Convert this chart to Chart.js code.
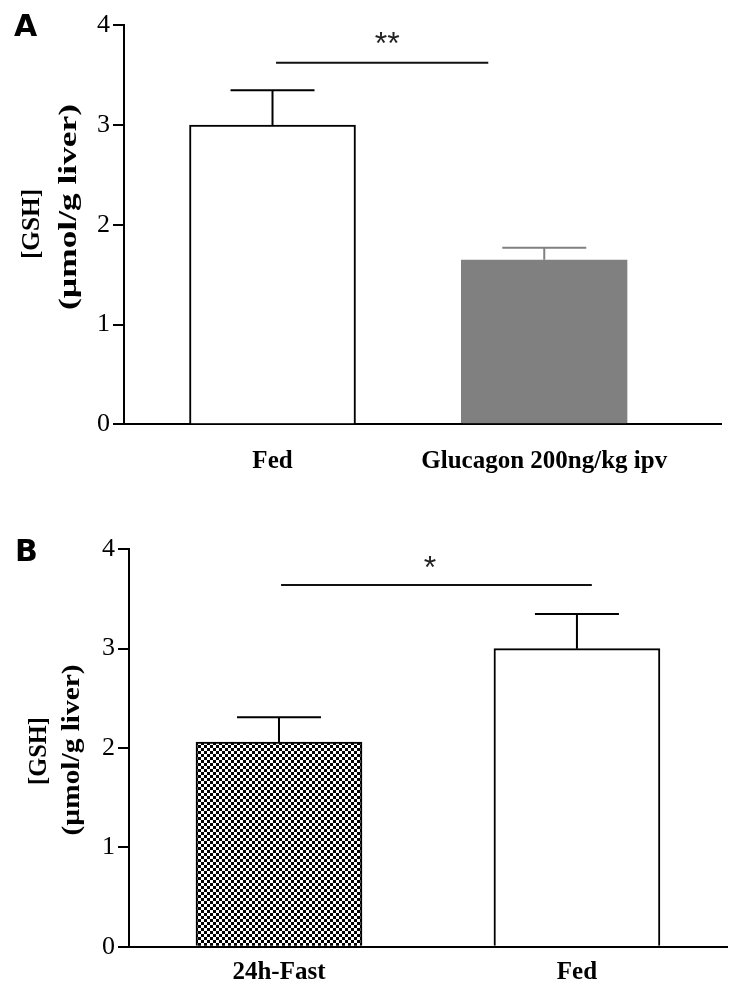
<!DOCTYPE html>
<html><head><meta charset="utf-8">
<script src="https://cdn.jsdelivr.net/npm/chart.js@4/dist/chart.umd.min.js"></script>
<style>
html,body{margin:0;padding:0;background:#fff;overflow:hidden;width:747px;height:987px}
canvas{position:absolute;left:0;display:block}
#cA{top:0}
#cB{top:493px}
</style></head>
<body>
<canvas id="cA" width="747" height="493"></canvas>
<canvas id="cB" width="747" height="494"></canvas>
<script>
// ---- data ----
const categoriesA = ['Fed', 'Glucagon 200ng/kg ipv'];
const valuesA = [3.0, 1.65];
const errorsA = [0.35, 0.12];
const categoriesB = ['24h-Fast', 'Fed'];
const valuesB = [2.06, 3.0];
const errorsB = [0.25, 0.35];
const yTickValues = [0, 1, 2, 3, 4];
const yTitleLines = ['[GSH]', '(µmol/g liver)'];
const sigTextA = '**';
const sigTextB = '*';

// checkered pattern
function checker() {
  const c = document.createElement('canvas');
  c.width = 6; c.height = 6;
  const g = c.getContext('2d');
  g.fillStyle = '#fff'; g.fillRect(0, 0, 6, 6);
  g.fillStyle = '#000'; g.fillRect(0, 0, 3, 3); g.fillRect(3, 3, 3, 3);
  return g.createPattern(c, 'repeat');
}

const overlay = {
  id: 'overlay',
  afterDatasetsDraw(chart, args, o) {
    const {ctx, scales: {x, y}} = chart;
    ctx.save();
    ctx.lineWidth = 2;
    o.vals.forEach((v, i) => {
      const px = x.getPixelForValue(i + 1);
      const yb = y.getPixelForValue(v);
      const yt = y.getPixelForValue(v + o.errs[i]);
      ctx.strokeStyle = o.errColors[i];
      ctx.beginPath();
      ctx.moveTo(px, yb); ctx.lineTo(px, yt);
      ctx.moveTo(px - o.cap, yt); ctx.lineTo(px + o.cap, yt);
      ctx.stroke();
    });
    // significance
    const s = o.sig;
    ctx.strokeStyle = '#111';
    ctx.beginPath();
    const sy = y.getPixelForValue(s.y);
    ctx.moveTo(x.getPixelForValue(s.x1), sy);
    ctx.lineTo(x.getPixelForValue(s.x2), sy);
    ctx.stroke();
    ctx.fillStyle = '#222';
    ctx.font = '32px "Liberation Sans"';
    ctx.textAlign = 'center'; ctx.textBaseline = 'middle';
    ctx.fillText(s.text, x.getPixelForValue(s.tx), y.getPixelForValue(s.ty));
    ctx.restore();
  },
  afterDraw(chart, args, o) {
    const ctx = chart.ctx;
    ctx.save();
    ctx.fillStyle = '#000';
    ctx.textAlign = 'center'; ctx.textBaseline = 'middle';
    o.titles.forEach(t => {
      ctx.save();
      ctx.font = 'bold ' + t.size + 'px "Liberation Serif"';
      ctx.translate(t.cx, t.cy);
      ctx.rotate(-Math.PI / 2);
      ctx.scale(t.sx, 1);
      ctx.fillText(t.text, 0, 0);
      ctx.restore();
    });
    ctx.font = 'bold 30px "DejaVu Sans"';
    ctx.textAlign = 'left'; ctx.textBaseline = 'alphabetic';
    ctx.fillText(o.letter.text, o.letter.x, o.letter.y);
    ctx.restore();
  }
};

function makeChart(id, cats, vals, errs, fills, borders, errColors, L) {
  return new Chart(document.getElementById(id), {
    type: 'bar',
    data: {
      datasets: [{
        data: vals.map((v, i) => ({x: i + 1, y: v})),
        backgroundColor: fills,
        borderColor: borders,
        borderWidth: 2,
        borderSkipped: 'start',
        barThickness: 166
      }]
    },
    options: {
      responsive: false,
      animation: false,
      devicePixelRatio: 1,
      layout: {padding: {top: L.top, right: L.right, left: 0, bottom: 0}},
      plugins: {
        legend: {display: false},
        tooltip: {enabled: false},
        overlay: {
          vals, errs, errColors, cap: 42,
          sig: L.sig, titles: L.titles, letter: L.letter
        }
      },
      scales: {
        x: {
          type: 'linear', min: L.xmin, max: L.xmax, offset: false,
          afterBuildTicks: s => { s.ticks = cats.map((c, i) => ({value: i + 1})); },
          afterFit: s => { s.height = L.xh; },
          grid: {display: true, drawOnChartArea: false, drawTicks: false, offset: false},
          border: {display: true, color: '#000', width: 2},
          ticks: {
            autoSkip: false, maxRotation: 0, minRotation: 0, color: '#000',
            padding: L.xpad,
            font: {family: 'Liberation Serif', size: 25, weight: 'bold'},
            callback: v => cats[Math.round(v) - 1] ?? ''
          }
        },
        y: {
          min: 0, max: 4,
          afterBuildTicks: s => { s.ticks = yTickValues.map(v => ({value: v})); },
          afterFit: s => { s.width = L.left; },
          grid: {display: true, drawOnChartArea: false, drawTicks: true, tickLength: 11, color: '#000', lineWidth: 2},
          border: {display: true, color: '#000', width: 2},
          ticks: {color: '#000', padding: 3, font: {family: 'Liberation Serif', size: 26}}
        }
      }
    },
    plugins: [overlay]
  });
}

makeChart('cA', categoriesA, valuesA, errorsA,
  ['#ffffff', '#808080'], ['#000000', '#808080'], ['#000000', '#808080'],
  {
    top: 25.3, right: 25.3, left: 124, xh: 68.7, xpad: 22,
    xmin: 0.4535, xmax: 2.653,
    sig: {x1: 1.013, x2: 1.794, y: 3.625, tx: 1.422, ty: 3.80, text: sigTextA},
    titles: [
      {text: yTitleLines[0], cx: 32, cy: 224, size: 26, sx: 0.97},
      {text: yTitleLines[1], cx: 69, cy: 207, size: 26, sx: 1.36}
    ],
    letter: {text: 'A', x: 14, y: 36}
  });

makeChart('cB', categoriesB, valuesB, errorsB,
  [checker(), '#ffffff'], ['#000000', '#000000'], ['#000000', '#000000'],
  {
    top: 56.3, right: 19.3, left: 129, xh: 40.3, xpad: 11,
    xmin: 0.4966, xmax: 2.506,
    sig: {x1: 1.007, x2: 2.05, y: 3.64, tx: 1.507, ty: 3.80, text: sigTextB},
    titles: [
      {text: yTitleLines[0], cx: 39, cy: 258, size: 26, sx: 0.94},
      {text: yTitleLines[1], cx: 72, cy: 257, size: 26, sx: 1.13}
    ],
    letter: {text: 'B', x: 15, y: 68}
  });
</script>
</body></html>
